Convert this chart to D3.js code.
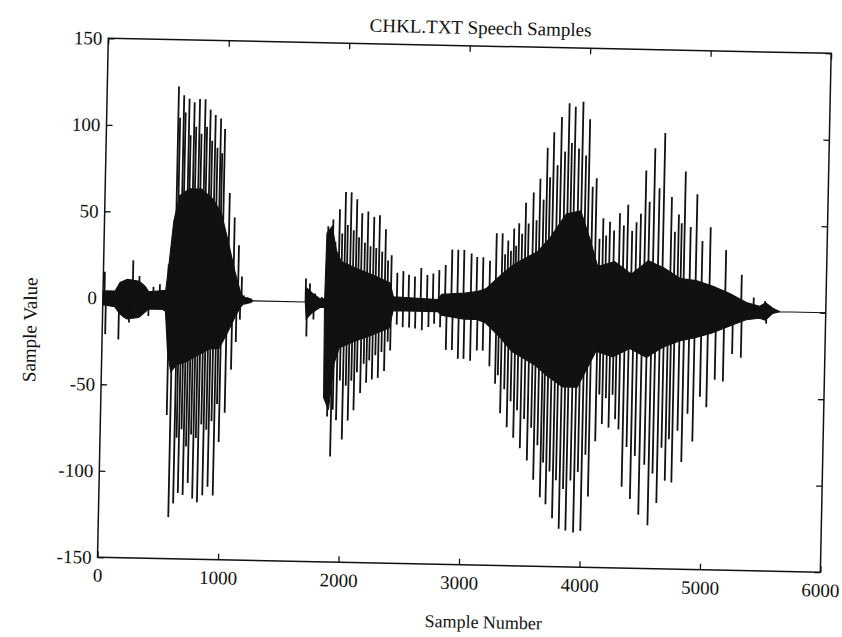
<!DOCTYPE html>
<html><head><meta charset="utf-8">
<script src="https://cdn.jsdelivr.net/npm/d3@7"></script>
<style>
body{margin:0;background:#fff}
text{font-family:"Liberation Serif","Times New Roman",serif;fill:#111}
</style>
</head><body>
<svg id="c" width="842" height="637"></svg>
<script>
const title = "CHKL.TXT Speech Samples";
const xLabel = "Sample Number";
const yLabel = "Sample Value";
const xTicks = [0, 1000, 2000, 3000, 4000, 5000, 6000];
const yTicks = [-150, -100, -50, 0, 50, 100, 150];

// positive pitch-pulse peaks (sample index, value)
const posSample = [12, 246, 300, 418, 471, 540,
  595, 610, 640, 655, 685, 700, 728, 745, 772, 790, 818, 835, 862, 880, 905, 925, 950, 965, 985, 1035, 1080, 1120, 1150,
  1170, 1200,
  1682, 1716, 1760, 1816,
  1858, 1899, 1920, 1952, 1975, 1999, 2020, 2046, 2070, 2094, 2115, 2138, 2165, 2188, 2212, 2238, 2260, 2285, 2310, 2337, 2360,
  2389, 2439, 2489, 2536, 2586, 2637, 2689, 2738, 2787,
  2839, 2891, 2941, 2991, 3052, 3099, 3150, 3206, 3257, 3306, 3330, 3354, 3378, 3401, 3420, 3442, 3468, 3495, 3520, 3557, 3585, 3610, 3640, 3665, 3690,
  3717, 3750, 3778, 3810, 3839, 3865, 3891, 3925, 3954, 3985, 4012, 4045, 4077, 4110, 4139, 4165, 4195, 4230, 4276, 4310, 4343, 4380, 4415, 4450, 4487, 4520,
  4558, 4600, 4638, 4704, 4735, 4765, 4790, 4815, 4865, 4915, 4965, 5031, 5163, 5297, 5400, 5495];
const posValue = [15, 22, 13, 7, 8.5, 20,
  123, 105, 118, 108, 116, 95, 114, 100, 116, 96, 116, 100, 110, 92, 107, 88, 105, 85, 99, 62, 48, 32, 14,
  3, 2,
  13.6, 10.8, 5, 3,
  44, 48, 35, 54, 40, 64, 45, 64, 42, 60, 38, 52, 35, 53, 33, 50, 32, 51, 30, 43, 25,
  28, 18, 19, 17, 16, 21, 17, 18, 20,
  23, 32, 32, 32, 30, 28, 28, 26, 42, 42, 30, 38, 32, 45, 35, 48, 42, 60, 48, 66, 50, 74, 62, 92, 75,
  101, 82, 110, 90, 118, 95, 116, 92, 119, 88, 109, 70, 75, 40, 52, 42, 50, 45, 55, 48, 60, 45, 50, 55, 80, 62,
  93, 70, 102, 65, 45, 55, 50, 80, 48, 67, 40, 48, 35, 21, 8, 6];

// negative pitch-pulse peaks (sample index, value)
const negSample = [25, 135, 175, 220, 380, 510,
  550, 580, 618, 635, 655, 675, 695, 715, 735, 755, 775, 795, 815, 838, 858, 880, 900, 922, 945, 965, 985, 1030, 1075, 1110, 1140,
  1185, 1215,
  1694, 1750, 1789, 1831,
  1868, 1880, 1912, 1926, 1955, 1980, 2006, 2030, 2052, 2075, 2098, 2120, 2150, 2175, 2198, 2220, 2245, 2270, 2294, 2320, 2345, 2370,
  2392, 2442, 2492, 2545, 2595, 2651, 2705,
  2752, 2802, 2854, 2904, 2955, 3002, 3057, 3111, 3160, 3218, 3268, 3290, 3315, 3345, 3372, 3400, 3428, 3455, 3485, 3515, 3545, 3575, 3601, 3630, 3659, 3680,
  3707, 3735, 3764, 3790, 3821, 3850, 3877, 3910, 3941, 3970, 4001, 4030, 4058, 4109, 4135, 4161, 4190, 4217, 4245, 4270, 4300, 4336, 4370, 4407,
  4440, 4479, 4520, 4557, 4590, 4627, 4660, 4693, 4720, 4748, 4790, 4827, 4870, 4915, 4970, 5025, 5090, 5158, 5230, 5303, 5507];
const negValue = [-21, -24, -11, -14, -10, -7,
  -67, -126, -118, -80, -112, -75, -113, -85, -106, -78, -115, -80, -117, -72, -113, -75, -108, -70, -113, -60, -82, -65, -40, -24, -11,
  -2, -1,
  -20, -10, -4, -3,
  -55, -66, -89, -62, -68, -45, -79, -48, -68, -45, -62, -40, -52, -35, -46, -33, -44, -30, -43, -28, -39, -22,
  -27, -12, -13.5, -13.5, -14, -15, -13,
  -11, -13, -26, -26, -31, -31, -32, -26, -26, -35, -45, -40, -62, -48, -70, -55, -76, -60, -82, -65, -89, -70, -100, -80, -110, -90,
  -114, -95, -122, -100, -128, -105, -129, -100, -130, -95, -129, -85, -109, -77, -50, -67, -52, -69, -50, -64, -70, -103, -80, -110,
  -85, -119, -90, -125, -95, -112, -80, -99, -75, -100, -70, -88, -60, -76, -50, -56, -40, -41, -25, -27, -7];

// dense core of the waveform (sample index, upper value, lower value)
const envSample = [0, 100, 140, 200, 300, 350, 380, 520, 545, 575, 620, 700, 800, 900, 970, 1030, 1090, 1140, 1165, 1230, 1245,
  1680, 1690, 1740, 1800, 1840, 1848, 1890, 1930, 1970, 2100, 2250, 2380, 2410, 2780, 2810, 3000, 3100, 3180, 3300, 3400,
  3500, 3600, 3700, 3830, 3950, 4030, 4100, 4240, 4380, 4520, 4650, 4790, 4920, 5060, 5200, 5340, 5450, 5500, 5560, 5620, 6000];
const envHigh = [4, 4, 9, 11, 10, 7, 4, 5, 22, 45, 60, 64, 64, 58, 50, 34, 17, 5, 2, 1, 0,
  0, 8, 5, 2, 2, 40, 44, 30, 24, 20, 16, 12, 4, 3, 6, 7, 8, 10, 18, 24,
  28, 32, 40, 54, 56, 40, 24, 27, 20, 28, 24, 18, 17, 14, 10, 5, 3, 5, 2, 0, 0];
const envLow = [-4, -5, -9, -12, -11, -8, -6, -6, -30, -42, -38, -36, -32, -28, -28, -20, -11, -4, -2, -1, 0,
  0, -10, -6, -3, -3, -55, -62, -35, -26, -22, -18, -14, -4, -4, -6, -8, -8, -10, -18, -26,
  -30, -34, -40, -46, -46, -35, -25, -28, -23, -28, -22, -18, -16, -13, -9, -5, -4, -5, -1, 0, 0];

const W = 723, H = 519, originX = 108.3, originY = 38.3, tilt = 1.19;
const svg = d3.select("#c");
const g = svg.append("g")
  .attr("transform", `rotate(${tilt},${originX},${originY}) translate(${originX},${originY})`);

const x = d3.scaleLinear().domain([0, 6000]).range([0, W]);
const y = d3.scaleLinear().domain([-150, 150]).range([H, 0]);

// core area
const env = envSample.map((s, i) => ({s, hi: envHigh[i], lo: envLow[i]}));
g.append("path").datum(env)
  .attr("d", d3.area().x(d => x(d.s)).y0(d => y(d.lo)).y1(d => y(d.hi)))
  .attr("fill", "#111").attr("stroke", "#111").attr("stroke-width", 1.1);

// pulses
const pulses = posSample.map((s, i) => ({s, v: posValue[i]}))
  .concat(negSample.map((s, i) => ({s, v: negValue[i]})));
g.append("g").selectAll("line").data(pulses).join("line")
  .attr("x1", d => x(d.s)).attr("x2", d => x(d.s))
  .attr("y1", y(0)).attr("y2", d => y(d.v))
  .attr("stroke", "#111").attr("stroke-width", 1.8);

// axes (ticks inward)
const fs = 19;
const fmt = d => String(d);
const axLeft = g.append("g").call(d3.axisLeft(y).tickValues(yTicks).tickSize(-6).tickPadding(6).tickFormat(fmt));
const axRight = g.append("g").attr("transform", `translate(${W},0)`).call(d3.axisRight(y).tickValues(yTicks).tickSize(-6).tickFormat(""));
const axTop = g.append("g").call(d3.axisTop(x).tickValues(xTicks).tickSize(-6).tickFormat(""));
const axBottom = g.append("g").attr("transform", `translate(0,${H})`).call(d3.axisBottom(x).tickValues(xTicks).tickSize(-6).tickPadding(11).tickFormat(fmt));
[axLeft, axRight, axTop, axBottom].forEach(a => {
  a.select(".domain").remove();
  a.selectAll(".tick line").attr("stroke", "#111").attr("stroke-width", 1.3);
  a.selectAll("text").attr("font-size", fs).attr("font-family", "Liberation Serif").attr("fill", "#111");
});

g.append("rect").attr("x", 0).attr("y", 0).attr("width", W).attr("height", H)
  .attr("fill", "none").attr("stroke", "#111").attr("stroke-width", 1.5);

g.append("text").attr("x", 372).attr("y", -12).attr("text-anchor", "middle")
  .attr("font-size", fs).text(title);
g.append("text").attr("x", 387).attr("y", 582).attr("text-anchor", "middle")
  .attr("font-size", 18).text(xLabel);
g.append("text").attr("transform", "translate(-66,293) rotate(-90)").attr("text-anchor", "middle")
  .attr("font-size", fs).text(yLabel);
</script>
</body></html>
